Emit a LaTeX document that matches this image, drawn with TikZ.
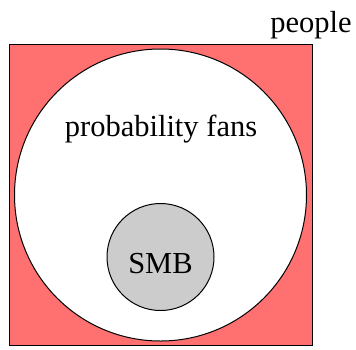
\documentclass[tikz,border=0pt]{standalone}
\usepackage{fontspec}
\setmainfont{LiberationSerif-Regular.ttf}
\usepackage{tikz}

\definecolor{peoplered}{RGB}{255,112,112}
\definecolor{smbgrey}{RGB}{204,204,204}

\begin{document}
\begin{tikzpicture}[x=1pt,y=-1pt,line width=1pt,font=\fontsize{30.5}{36}\selectfont]
             \useasboundingbox (0,0) rectangle (356,349);
             \node[anchor=base] (people) at (311, 32) {people};

             \draw[fill=peoplered] (9.5,44) rectangle (312,345);
             \node[draw, circle, fill=white, minimum size=292pt, inner sep=0pt] (fans) at (160.5, 195) {};
             \node[anchor=base] (fanslabel) at (161, 136) {probability fans};
             \node[draw, circle, fill=smbgrey, minimum size=107pt, inner sep=0pt] (smb) at (160.5, 257) {};
             \node[anchor=base] (smblabel) at (160.5, 273) {SMB};
             \end{tikzpicture}
\end{document}
